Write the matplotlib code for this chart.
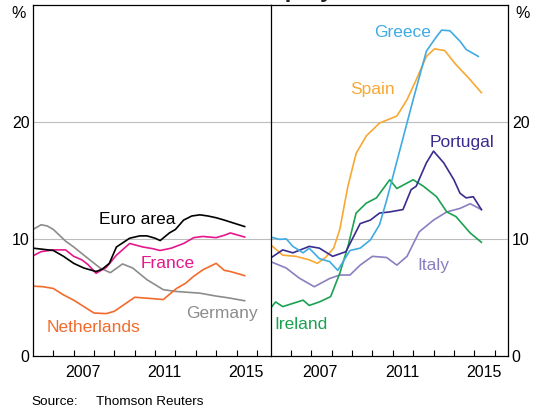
import numpy as np
import matplotlib.pyplot as plt
from matplotlib.ticker import FixedLocator, NullFormatter

plt.rcParams['font.family'] = ['Liberation Sans', 'DejaVu Sans']

# Datos (año decimal, tasa de desempleo en %)
euro_x = [2005.0, 2005.5, 2006.0, 2006.5, 2007.0, 2007.5, 2008.1, 2008.4, 2008.75, 2009.1,
          2009.75, 2010.25, 2010.6, 2011.0, 2011.25, 2011.7, 2012.0, 2012.4, 2012.8, 2013.2,
          2013.6, 2014.0, 2014.4, 2014.85, 2015.4]
euro_y = [9.2, 9.1, 9.0, 8.5, 7.9, 7.5, 7.2, 7.4, 7.9, 9.3,
          10.05, 10.25, 10.25, 10.05, 9.85, 10.5, 10.8, 11.6, 11.95, 12.05,
          11.95, 11.8, 11.6, 11.35, 11.05]

france_x = [2005.0, 2005.4, 2006.0, 2006.6, 2007.0, 2007.4, 2007.7, 2008.1, 2008.6, 2009.1,
            2009.75, 2010.4, 2010.9, 2011.24, 2011.8, 2012.4, 2012.9, 2013.35, 2014.0, 2014.4,
            2014.7, 2015.4]
france_y = [8.55, 8.9, 9.05, 9.05, 8.5, 8.2, 7.8, 7.05, 7.55, 8.6,
            9.6, 9.3, 9.15, 9.0, 9.2, 9.6, 10.1, 10.2, 10.1, 10.3,
            10.5, 10.15]

germany_x = [2005.0, 2005.4, 2005.7, 2006.0, 2006.6, 2007.0, 2007.5, 2008.3, 2008.8, 2009.4,
             2009.9, 2010.6, 2011.4, 2012.0, 2013.2, 2014.0, 2014.6, 2015.4]
germany_y = [10.8, 11.2, 11.1, 10.8, 9.8, 9.3, 8.6, 7.5, 7.1, 7.85,
             7.5, 6.5, 5.65, 5.5, 5.35, 5.1, 4.95, 4.7]

neth_x = [2005.0, 2005.5, 2006.0, 2006.5, 2007.0, 2007.5, 2008.0, 2008.6, 2009.0, 2009.5,
          2010.0, 2010.75, 2011.4, 2012.05, 2012.5, 2012.9, 2013.35, 2014.0, 2014.4, 2014.7,
          2015.4]
neth_y = [5.95, 5.9, 5.75, 5.2, 4.75, 4.2, 3.65, 3.6, 3.8, 4.4,
          5.0, 4.9, 4.8, 5.75, 6.2, 6.8, 7.35, 7.9, 7.3, 7.2,
          6.85]

greece_x = [2005.0, 2005.45, 2005.77, 2006.1, 2006.6, 2006.9, 2007.4, 2007.9, 2008.3, 2008.9,
            2009.4, 2009.9, 2010.35, 2010.7, 2011.35, 2012.0, 2012.65, 2013.15, 2013.4, 2013.8,
            2014.3, 2014.6, 2015.2]
greece_y = [10.15, 9.95, 10.0, 9.35, 8.8, 9.2, 8.3, 8.05, 7.3, 9.0,
            9.2, 9.9, 11.2, 13.3, 17.6, 21.9, 26.05, 27.3, 27.85, 27.8,
            26.9, 26.2, 25.6]

spain_x = [2005.0, 2005.6, 2006.25, 2006.9, 2007.3, 2007.7, 2008.1, 2008.4, 2008.7, 2008.8,
           2009.2, 2009.7, 2010.35, 2011.2, 2011.7, 2012.15, 2012.65, 2013.05, 2013.55, 2014.1,
           2014.7, 2015.35]
spain_y = [9.5, 8.6, 8.5, 8.2, 7.9, 8.4, 9.2, 10.8, 13.6, 14.5,
           17.3, 18.8, 19.9, 20.5, 21.9, 23.6, 25.6, 26.25, 26.1, 24.9,
           23.8, 22.5]

portugal_x = [2005.0, 2005.6, 2006.1, 2006.9, 2007.4, 2008.05, 2008.7, 2009.4, 2009.9, 2010.35,
              2010.85, 2011.5, 2011.9, 2012.15, 2012.65, 2013.0, 2013.5, 2014.0, 2014.3, 2014.6,
              2014.95, 2015.35]
portugal_y = [8.35, 9.05, 8.8, 9.35, 9.2, 8.5, 8.9, 11.3, 11.6, 12.2,
              12.3, 12.5, 14.2, 14.5, 16.5, 17.5, 16.5, 15.05, 13.9, 13.5,
              13.6, 12.5]

ireland_x = [2005.0, 2005.25, 2005.6, 2006.6, 2006.9, 2007.4, 2007.95, 2008.4, 2008.8, 2009.2,
             2009.7, 2010.2, 2010.85, 2011.2, 2012.0, 2012.5, 2013.15, 2013.65, 2014.1, 2014.8,
             2015.35]
ireland_y = [4.05, 4.6, 4.2, 4.75, 4.3, 4.6, 5.05, 7.05, 9.35, 12.2,
             13.05, 13.5, 15.05, 14.3, 15.05, 14.5, 13.6, 12.3, 11.9, 10.5,
             9.7]

italy_x = [2005.0, 2005.77, 2006.4, 2007.15, 2007.9, 2008.4, 2008.9, 2009.4, 2010.0, 2010.7,
           2011.2, 2011.7, 2012.3, 2013.0, 2013.65, 2014.3, 2014.8, 2015.35]
italy_y = [8.05, 7.5, 6.65, 5.9, 6.6, 6.9, 6.9, 7.75, 8.5, 8.4,
           7.75, 8.5, 10.6, 11.6, 12.3, 12.6, 13.0, 12.5]

# Colores
c_euro, c_france, c_germany, c_neth = 'black', '#e5178d', '#8c8c8c', '#f26b2c'
c_greece, c_spain, c_portugal = '#3fabe2', '#f8a833', '#3a2c8e'
c_ireland, c_italy = '#1ba151', '#8b7ec1'

fig = plt.figure(figsize=(5.43, 4.11), dpi=100)
ax1 = fig.add_axes([33 / 543, 1 - 355.7 / 411, 237.5 / 543, 350.7 / 411])
ax2 = fig.add_axes([270.5 / 543, 1 - 355.7 / 411, 237.8 / 543, 350.7 / 411])

lw = 1.2
ax1.plot(germany_x, germany_y, color=c_germany, lw=lw)
ax1.plot(neth_x, neth_y, color=c_neth, lw=lw)
ax1.plot(france_x, france_y, color=c_france, lw=lw)
ax1.plot(euro_x, euro_y, color=c_euro, lw=lw)

ax2.plot(italy_x, italy_y, color=c_italy, lw=lw)
ax2.plot(ireland_x, ireland_y, color=c_ireland, lw=lw)
ax2.plot(spain_x, spain_y, color=c_spain, lw=lw)
ax2.plot(portugal_x, portugal_y, color=c_portugal, lw=lw)
ax2.plot(greece_x, greece_y, color=c_greece, lw=lw)

fs_lab = 12.5
ax1.text(2010.1, 11.65, 'Euro area', color=c_euro, fontsize=fs_lab, ha='center', va='center')
ax1.text(2011.6, 7.9, 'France', color=c_france, fontsize=fs_lab, ha='center', va='center')
ax1.text(2014.3, 3.65, 'Germany', color=c_germany, fontsize=fs_lab, ha='center', va='center')
ax1.text(2007.95, 2.45, 'Netherlands', color=c_neth, fontsize=fs_lab, ha='center', va='center')

ax2.text(2011.5, 27.65, 'Greece', color=c_greece, fontsize=fs_lab, ha='center', va='center')
ax2.text(2010.0, 22.75, 'Spain', color=c_spain, fontsize=fs_lab, ha='center', va='center')
ax2.text(2014.4, 18.2, 'Portugal', color=c_portugal, fontsize=fs_lab, ha='center', va='center')
ax2.text(2006.5, 2.65, 'Ireland', color=c_ireland, fontsize=fs_lab, ha='center', va='center')
ax2.text(2013.0, 7.75, 'Italy', color=c_italy, fontsize=fs_lab, ha='center', va='center')

for ax in (ax1, ax2):
    ax.set_xlim(2005.0, 2016.67)
    ax.set_ylim(0, 30)
    ax.set_yticks([0, 10, 20])
    ax.axhline(10, color='#bdbdbd', lw=0.8, zorder=0)
    ax.axhline(20, color='#bdbdbd', lw=0.8, zorder=0)
    ax.set_xticks([2007.45, 2011.45, 2015.45])
    ax.set_xticklabels(['2007', '2011', '2015'])
    ax.xaxis.set_minor_locator(FixedLocator(np.arange(2006, 2017)))
    ax.xaxis.set_minor_formatter(NullFormatter())
    ax.tick_params(axis='x', which='major', length=0, labelsize=11.5, pad=7)
    ax.tick_params(axis='x', which='minor', direction='in', length=4.5, width=0.8)
    ax.tick_params(axis='y', length=0, labelsize=11.5, pad=2.5)
    for s in ax.spines.values():
        s.set_linewidth(0.9)

ax1.spines['right'].set_visible(False)
ax2.yaxis.tick_right()
ax2.text(1.03, 0.975, '%', transform=ax2.transAxes, fontsize=11.5, ha='left', va='center')
ax1.text(-0.03, 0.975, '%', transform=ax1.transAxes, fontsize=11.5, ha='right', va='center')

# Título cortado en la parte superior y fuente
fig.text(219 / 543, 1 + 3.5 / 411, 'Unemployment Rates', fontsize=17, fontweight='bold',
         ha='left', va='baseline', color='#222222')
fig.text(31 / 543, 1 - 401.7 / 411, 'Source:', fontsize=9.7, ha='left', va='center')
fig.text(96.5 / 543, 1 - 401.7 / 411, 'Thomson Reuters', fontsize=9.7, ha='left', va='center')

fig.savefig('out.png', dpi=100)
